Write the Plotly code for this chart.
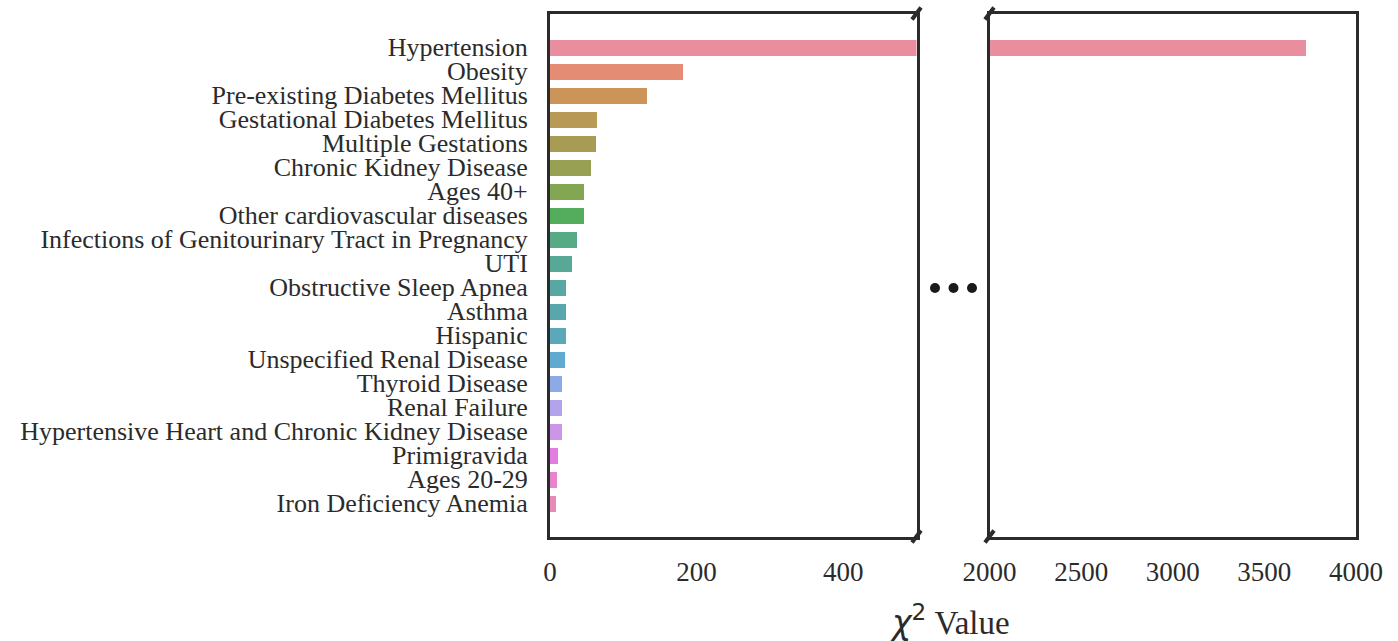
import math
import colorsys
import plotly.graph_objects as go

# Risk factors ranked by chi-squared statistic
categories = [
    "Hypertension", "Obesity", "Pre-existing Diabetes Mellitus",
    "Gestational Diabetes Mellitus", "Multiple Gestations",
    "Chronic Kidney Disease", "Ages 40+", "Other cardiovascular diseases",
    "Infections of Genitourinary Tract in Pregnancy", "UTI",
    "Obstructive Sleep Apnea", "Asthma", "Hispanic",
    "Unspecified Renal Disease", "Thyroid Disease", "Renal Failure",
    "Hypertensive Heart and Chronic Kidney Disease", "Primigravida",
    "Ages 20-29", "Iron Deficiency Anemia",
]
chi2_values = [3725, 181, 132, 64.5, 63, 56, 47, 46, 37, 30,
               22, 22, 21.5, 21, 17, 16.5, 16, 11, 9.5, 7.5]

left_ticks = [0, 200, 400]
right_ticks = [2000, 2500, 3000, 3500, 4000]


# --- HUSL palette (as used by seaborn's "husl" palette) -------------------
_M = [[3.2406, -1.5372, -0.4986],
      [-0.9689, 1.8758, 0.0415],
      [0.0557, -0.2040, 1.0570]]
_REF_U, _REF_V = 0.19784, 0.46834
_LAB_E, _LAB_K = 0.008856, 903.3


def _max_chroma(L, H):
    hrad = math.radians(H)
    sinH, cosH = math.sin(hrad), math.cos(hrad)
    sub1 = (L + 16) ** 3 / 1560896.0
    sub2 = sub1 if sub1 > _LAB_E else L / _LAB_K
    result = float("inf")
    for m1, m2, m3 in _M:
        top = (0.99915 * m1 + 1.05122 * m2 + 1.14460 * m3) * sub2
        rbottom = 0.86330 * m3 - 0.17266 * m2
        lbottom = 0.12949 * m3 - 0.38848 * m1
        bottom = (rbottom * sinH + lbottom * cosH) * sub2
        for t in (0.0, 1.0):
            C = L * (top - 1.05122 * t) / (bottom + 0.17266 * sinH * t)
            if 0.0 < C < result:
                result = C
    return result


def _from_linear(c):
    if c <= 0.0031308:
        return 12.92 * c
    return 1.055 * c ** (1 / 2.4) - 0.055


def husl_to_rgb(H, S, L):
    C = _max_chroma(L, H) / 100.0 * S
    hrad = math.radians(H)
    U, V = C * math.cos(hrad), C * math.sin(hrad)
    t = (L + 16) / 116.0
    varY = t ** 3 if t ** 3 > _LAB_E else (116 * t - 16) / _LAB_K
    varU = U / (13 * L) + _REF_U
    varV = V / (13 * L) + _REF_V
    Y = varY
    X = -(9 * Y * varU) / ((varU - 4) * varV - varU * varV)
    Z = (9 * Y - 15 * varV * Y - varV * X) / (3 * varV)
    rgb = [_from_linear(r[0] * X + r[1] * Y + r[2] * Z) for r in _M]
    return [min(max(c, 0.0), 1.0) for c in rgb]


def husl_palette(n, h=0.01, s=0.9, l=0.65, desat=0.75, tint=0.1):
    cols = []
    for i in range(n):
        hue = ((i / n + h) % 1) * 359
        r, g, b = husl_to_rgb(hue, s * 99, l * 99)
        hh, ll, ss = colorsys.rgb_to_hls(r, g, b)
        rgb = colorsys.hls_to_rgb(hh, ll, ss * desat)
        rgb = [c + (1 - c) * tint for c in rgb]
        cols.append("rgb(%d,%d,%d)" % tuple(round(c * 255) for c in rgb))
    return cols


colors = husl_palette(len(categories))

W, H = 1398, 641
ink = "#2b2b2b"
serif = "Liberation Serif, Times New Roman, serif"

fig = go.Figure()
fig.add_trace(go.Bar(
    x=chi2_values, y=categories, orientation="h",
    marker=dict(color=colors, line=dict(width=0)),
    width=0.67, xaxis="x", yaxis="y", showlegend=False,
    hovertemplate="%{y}: %{x}<extra></extra>",
))
fig.add_trace(go.Bar(
    x=chi2_values, y=categories, orientation="h",
    marker=dict(color=colors, line=dict(width=0)),
    width=0.67, xaxis="x2", yaxis="y2", showlegend=False,
    hovertemplate="%{y}: %{x}<extra></extra>",
))

# pixel geometry of the two panels
px_l0, px_l1 = 550, 916.5
px_r0, px_r1 = 989.5, 1356
py_top, py_bot = 13.5, 536.5

axis_common = dict(
    showline=True, linecolor=ink, linewidth=3, mirror=True,
    showgrid=False, zeroline=False, ticks="", automargin=False,
)
x_font = dict(family=serif, size=27, color=ink)
y_font = dict(family=serif, size=26, color=ink)
y_range = [len(categories) - 1 + 1.39, -1.4]

fig.update_layout(
    width=W, height=H, autosize=False,
    margin=dict(l=0, r=0, t=0, b=0, pad=0),
    paper_bgcolor="white", plot_bgcolor="white",
    bargap=0,
    xaxis=dict(domain=[px_l0 / W, px_l1 / W], range=[0, 500],
               tickmode="array", tickvals=left_ticks,
               ticktext=[str(v) for v in left_ticks],
               tickfont=x_font, ticklabelstandoff=9,
               anchor="y", **axis_common),
    xaxis2=dict(domain=[px_r0 / W, px_r1 / W], range=[2000, 4000],
                tickmode="array", tickvals=right_ticks,
                ticktext=[str(v) for v in right_ticks],
                tickfont=x_font, ticklabelstandoff=9,
                anchor="y2", **axis_common),
    yaxis=dict(domain=[1 - py_bot / H, 1 - py_top / H], range=y_range,
               type="category", tickmode="array",
               tickvals=categories, ticktext=categories,
               tickfont=y_font, ticklabelstandoff=14,
               anchor="x", **axis_common),
    yaxis2=dict(domain=[1 - py_bot / H, 1 - py_top / H], range=y_range,
                type="category", showticklabels=False,
                anchor="x2", **axis_common),
)


def px(x, y):
    return x / W, 1 - y / H


# diagonal break marks at the cut edges of the axis
for cx in (px_l1, px_r0):
    for cy in (py_top, py_bot):
        x0, y0 = px(cx - 4.5, cy + 6)
        x1, y1 = px(cx + 4.5, cy - 6)
        fig.add_shape(type="line", xref="paper", yref="paper",
                      x0=x0, y0=y0, x1=x1, y1=y1,
                      line=dict(color=ink, width=4))

# ellipsis dots between the panels
for dx in (935, 953.5, 972):
    x0, y0 = px(dx - 5, 288 - 5)
    x1, y1 = px(dx + 5, 288 + 5)
    fig.add_shape(type="circle", xref="paper", yref="paper",
                  x0=x0, y0=y1, x1=x1, y1=y0,
                  fillcolor="#1a1a1a", line=dict(width=0))

# shared x-axis title
fig.add_annotation(
    xref="paper", yref="paper", x=950 / W, y=1 - 620 / H,
    xanchor="center", yanchor="middle", showarrow=False,
    text=("<span style='font-family:DejaVu Sans'><i>χ</i><sup>2</sup></span>"
          " Value"),
    font=dict(family=serif, size=33, color=ink),
)

fig.write_html("out.html")
